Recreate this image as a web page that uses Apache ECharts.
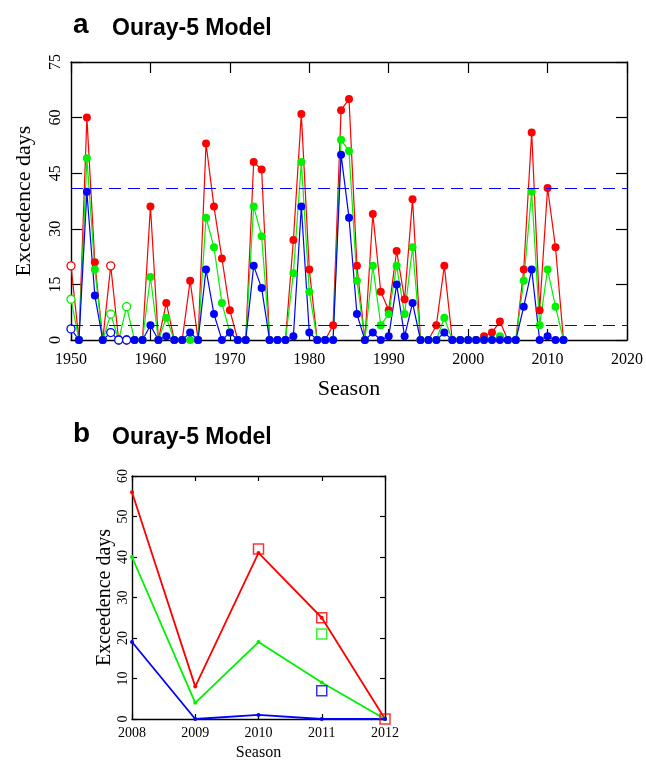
<!DOCTYPE html>
<html>
<head>
<meta charset="utf-8">
<script src="https://cdn.jsdelivr.net/npm/echarts@6/dist/echarts.min.js"></script>
<style>
html,body{margin:0;padding:0;background:#fff;}
#chart{width:646px;height:762px;}
</style>
</head>
<body>
<div id="chart"></div>
<script>
// ---------- Panel a data ----------
const seasonsA = [1950,1951,1952,1953,1954,1955,1956,1957,1958,1959,
  1960,1961,1962,1963,1964,1965,1966,1967,1968,1969,
  1970,1971,1972,1973,1974,1975,1976,1977,1978,1979,
  1980,1981,1982,1983,1984,1985,1986,1987,1988,1989,
  1990,1991,1992,1993,1994,1995,1996,1997,1998,1999,
  2000,2001,2002,2003,2004,2005,2006,2007,2008,2009,
  2010,2011,2012];
const redA = [20,0,60,21,0,20,0,0,0,0,
  36,0,10,0,0,16,0,53,36,22,
  8,0,0,48,46,0,0,0,27,61,
  19,0,0,4,62,65,20,0,34,13,
  8,24,11,38,0,0,4,20,0,0,
  0,0,1,2,5,0,0,19,56,8,
  41,25,0];
const greenA = [11,0,49,19,0,7,0,9,0,0,
  17,0,6,0,0,0,0,33,25,10,
  2,0,0,36,28,0,0,0,18,48,
  13,0,0,0,54,51,16,0,20,4,
  7,20,7,25,0,0,0,6,0,0,
  0,0,0,0,1,0,0,16,40,4,
  19,9,0];
const blueA = [3,0,40,12,0,2,0,0,0,0,
  4,0,1,0,0,2,0,19,7,0,
  2,0,0,20,14,0,0,0,1,36,
  2,0,0,0,50,33,7,0,2,0,
  1,15,1,10,0,0,0,2,0,0,
  0,0,0,0,0,0,0,9,19,0,
  1,0,0];
const openSeasonsA = [1950,1955,1956,1957];
const thresholdsA = [41,4];

// ---------- Panel b data ----------
const seasonsB = [2008,2009,2010,2011,2012];
const redB = [56,8,41,25,0];
const greenB = [40,4,19,9,0];
const blueB = [19,0,1,0,0];
const redObsSeasons = [2010,2011,2012];
const redObs = [42,25,0];
const greenObsSeasons = [2011];
const greenObs = [21];
const blueObsSeasons = [2011];
const blueObs = [7];

const RED = '#ff0000', GREEN = '#00f000', BLUE = '#0000ff';
const SERIF = '"Liberation Serif","Times New Roman",serif';
const SANS = '"Liberation Sans",Arial,sans-serif';

function seriesA(vals, color) {
  return seasonsA.map((yr, i) => {
    const open = openSeasonsA.indexOf(yr) >= 0;
    return {
      value: [yr, vals[i]],
      symbol: 'circle',
      itemStyle: open ? {color: '#fff', borderColor: color, borderWidth: 1.3} : {color: color}
    };
  });
}
function pairs(xs, ys) { return xs.map((x, i) => [x, ys[i]]); }
const plain = v => String(v);

function frameAxes(gridIndex, min, max, interval, tickLen, isX, labelCfg, name, nameCfg) {
  const line = {show: true, onZero: false, lineStyle: {color: '#000', width: 1.4}};
  const tick = {show: true, inside: true, length: tickLen, lineStyle: {color: '#000', width: 1.2}};
  const main = {
    type: 'value', gridIndex, min, max, interval,
    position: isX ? 'bottom' : 'left',
    axisLine: line, axisTick: tick, splitLine: {show: false},
    axisLabel: Object.assign({formatter: plain}, labelCfg),
    name: name, nameLocation: 'middle',
    nameGap: nameCfg.gap, nameRotate: isX ? 0 : 90,
    nameTextStyle: {fontFamily: SERIF, fontSize: nameCfg.size, color: '#000'}
  };
  const mirror = {
    type: 'value', gridIndex, min, max, interval,
    position: isX ? 'top' : 'right',
    axisLine: line, axisTick: tick, splitLine: {show: false},
    axisLabel: {show: false}
  };
  return [main, mirror];
}

const [xa0, xa1] = frameAxes(0, 1950, 2020, 10, 11, true,
  {fontFamily: SERIF, fontSize: 16, color: '#000', margin: 12}, 'Season', {gap: 38, size: 22});
const [ya0, ya1] = frameAxes(0, 0, 75, 15, 11, false,
  {fontFamily: SERIF, fontSize: 16, color: '#000', rotate: 90, margin: 7}, 'Exceedence days', {gap: 36, size: 22});
const [xb0, xb1] = frameAxes(1, 2008, 2012, 1, 5, true,
  {fontFamily: SERIF, fontSize: 14, color: '#000', margin: 7}, 'Season', {gap: 26, size: 16});
const [yb0, yb1] = frameAxes(1, 0, 60, 10, 5, false,
  {fontFamily: SERIF, fontSize: 14, color: '#000', rotate: 90, margin: 2}, 'Exceedence days', {gap: 14, size: 20});

const lineA = (name, vals, color, extra) => Object.assign({
  name, type: 'line', xAxisIndex: 0, yAxisIndex: 0,
  data: seriesA(vals, color), symbolSize: 8, clip: false,
  lineStyle: {color, width: 1.2}, itemStyle: {color},
  emphasis: {disabled: true}
}, extra || {});

const lineB = (name, vals, color) => ({
  name, type: 'line', xAxisIndex: 2, yAxisIndex: 2,
  data: pairs(seasonsB, vals), symbol: 'circle', symbolSize: 4, clip: false,
  lineStyle: {color, width: 1.8}, itemStyle: {color},
  emphasis: {disabled: true}
});
const obsB = (name, xs, ys, color) => ({
  name, type: 'scatter', xAxisIndex: 2, yAxisIndex: 2,
  data: pairs(xs, ys), symbol: 'rect', symbolSize: 10, clip: false, z: 5,
  itemStyle: {color: 'rgba(0,0,0,0)', borderColor: color, borderWidth: 1.5},
  emphasis: {disabled: true}
});

const titleStyle = size => ({fontFamily: SANS, fontWeight: 'bold', fontSize: size, color: '#000'});

const option = {
  animation: false,
  backgroundColor: '#fff',
  title: [
    {text: 'a', left: 73, top: 11, padding: 0, textStyle: titleStyle(28)},
    {text: 'Ouray-5 Model', left: 112, top: 17, padding: 0, textStyle: titleStyle(23)},
    {text: 'b', left: 73, top: 420, padding: 0, textStyle: titleStyle(28)},
    {text: 'Ouray-5 Model', left: 112, top: 426, padding: 0, textStyle: titleStyle(23)}
  ],
  grid: [
    {left: 71, top: 62, width: 556, height: 278},
    {left: 132, top: 476, width: 253, height: 252}
  ],
  xAxis: [xa0, xa1, xb0, xb1],
  yAxis: [ya0, ya1, yb0, yb1],
  series: [
    lineA('red', redA, RED),
    lineA('green', greenA, GREEN),
    lineA('blue', blueA, BLUE, {
      markLine: {
        silent: true, symbol: 'none', label: {show: false},
        lineStyle: {color: BLUE, width: 1.2, type: [12, 7]},
        data: thresholdsA.map(v => ({yAxis: v}))
      }
    }),
    lineB('red b', redB, RED),
    lineB('green b', greenB, GREEN),
    lineB('blue b', blueB, BLUE),
    obsB('red obs', redObsSeasons, redObs, RED),
    obsB('green obs', greenObsSeasons, greenObs, GREEN),
    obsB('blue obs', blueObsSeasons, blueObs, BLUE)
  ]
};

const chart = echarts.init(document.getElementById('chart'), null, {renderer: 'canvas'});
chart.setOption(option);
</script>
</body>
</html>
